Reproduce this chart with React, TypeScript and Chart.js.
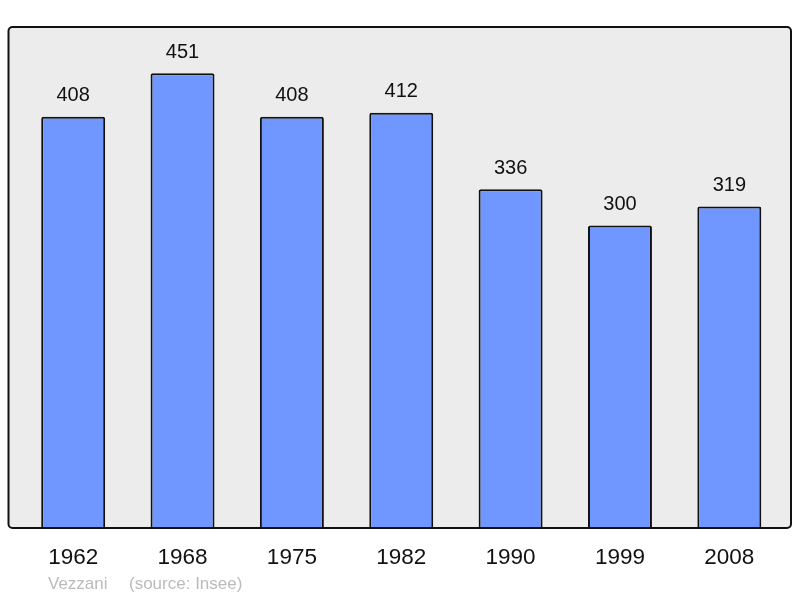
import React, { useEffect, useRef } from "react";
import { Chart, registerables } from "chart.js";

Chart.register(...registerables);

const years = ["1962", "1968", "1975", "1982", "1990", "1999", "2008"];
const population = [408, 451, 408, 412, 336, 300, 319];
const footerName = "Vezzani";
const footerSource = "(source: Insee)";

const FONT = "'Liberation Sans', Arial, sans-serif";

function frameRect(chartArea: any) {
  const x = chartArea.left - 10;
  const y = chartArea.top;
  const w = chartArea.right + 7 - x;
  const h = chartArea.bottom - chartArea.top;
  return { x, y, w, h };
}

const framePlugin = {
  id: "frame",
  beforeDraw(chart: any) {
    const { ctx, chartArea } = chart;
    const { x, y, w, h } = frameRect(chartArea);
    ctx.save();
    ctx.beginPath();
    ctx.roundRect(x, y, w, h, 4);
    ctx.fillStyle = "#ececec";
    ctx.fill();
    ctx.restore();
  },
  afterDatasetsDraw(chart: any) {
    const { ctx, chartArea } = chart;
    const { x, y, w, h } = frameRect(chartArea);
    ctx.save();
    ctx.beginPath();
    ctx.roundRect(x, y, w, h, 4);
    ctx.lineWidth = 2;
    ctx.strokeStyle = "#111";
    ctx.stroke();

    // value labels
    const meta = chart.getDatasetMeta(0);
    ctx.fillStyle = "#111";
    ctx.font = `20px ${FONT}`;
    ctx.textAlign = "center";
    ctx.textBaseline = "middle";
    meta.data.forEach((bar: any, i: number) => {
      ctx.fillText(String(population[i]), bar.x, bar.y - 21);
    });

    // footer
    ctx.fillStyle = "#bbbbbb";
    ctx.font = `17px ${FONT}`;
    ctx.textAlign = "left";
    ctx.fillText(footerName, 48, 584);
    ctx.fillText(footerSource, 129, 584);
    ctx.restore();
  },
};

export default function App() {
  const ref = useRef<HTMLCanvasElement>(null);
  useEffect(() => {
    document.body.style.margin = "0";
    const chart = new Chart(ref.current!, {
      type: "bar",
      data: {
        labels: years,
        datasets: [
          {
            data: population,
            backgroundColor: "#7096ff",
            borderColor: "#111",
            borderWidth: 2,
            borderRadius: 2,
            borderSkipped: "start",
            categoryPercentage: 1,
            barPercentage: 0.585,
          },
        ],
      },
      plugins: [framePlugin],
      options: {
        animation: false,
        responsive: false,
        maintainAspectRatio: false,
        layout: { padding: { top: 27, left: 18.5, right: 16, bottom: 11 } },
        plugins: { legend: { display: false }, tooltip: { enabled: false } },
        scales: {
          x: {
            grid: { display: false, drawTicks: false },
            border: { display: false },
            ticks: {
              color: "#111",
              font: { family: FONT, size: 22.5 },
              padding: 16,
            },
          },
          y: {
            display: false,
            min: 0,
            max: 497,
          },
        },
      },
    });
    return () => chart.destroy();
  }, []);
  return <canvas ref={ref} width={800} height={598} style={{ display: "block" }} />;
}
